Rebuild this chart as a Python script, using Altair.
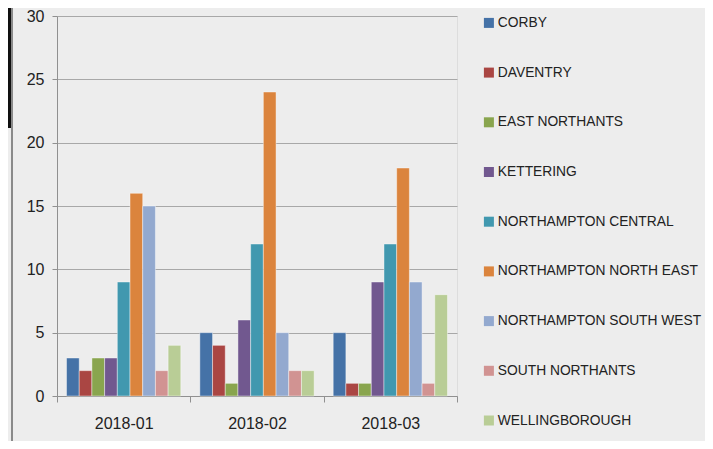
import altair as alt
import pandas as pd

months = ["2018-01", "2018-02", "2018-03"]
areas = ["CORBY", "DAVENTRY", "EAST NORTHANTS", "KETTERING", "NORTHAMPTON CENTRAL",
         "NORTHAMPTON NORTH EAST", "NORTHAMPTON SOUTH WEST", "SOUTH NORTHANTS", "WELLINGBOROUGH"]
colors = ["#4572A7", "#AA4643", "#89A54E", "#71588F", "#4198AF",
          "#DB843D", "#93A9CF", "#D19392", "#B9CD96"]
v_2018_01 = [3, 2, 3, 3, 9, 16, 15, 2, 4]
v_2018_02 = [5, 4, 1, 6, 12, 24, 5, 2, 2]
v_2018_03 = [5, 1, 1, 9, 12, 18, 9, 1, 8]

rows = []
for m, vals in zip(months, [v_2018_01, v_2018_02, v_2018_03]):
    for a, v in zip(areas, vals):
        rows.append({"month": m, "area": a, "count": v})
df = pd.DataFrame(rows)

FONT = "Liberation Sans, Arial, sans-serif"

bars = alt.Chart(df).mark_bar(stroke="#ffffff", strokeWidth=0.6, strokeOpacity=0.7).encode(
    x=alt.X("month:N", sort=months, title=None,
            scale=alt.Scale(paddingInner=0, paddingOuter=0),
            axis=alt.Axis(labelAngle=0, tickBand="extent", tickSize=6, tickColor="#909090",
                          domainColor="#909090", labelFontSize=16, labelPadding=13,
                          labelColor="#222222", grid=False)),
    xOffset=alt.XOffset("area:N", sort=areas,
                        scale=alt.Scale(paddingOuter=0.75, paddingInner=0)),
    y=alt.Y("count:Q", title=None,
            scale=alt.Scale(domain=[0, 30], nice=False),
            axis=alt.Axis(values=[0, 5, 10, 15, 20, 25, 30], tickSize=5, tickColor="#909090",
                          domainColor="#909090", gridColor="#a8a8a8", labelFontSize=16,
                          labelPadding=8, labelColor="#222222")),
    color=alt.Color("area:N", sort=areas, title=None,
                    scale=alt.Scale(domain=areas, range=colors),
                    legend=alt.Legend(orient="none", legendX=425, legendY=0,
                                      symbolType="square", symbolSize=100,
                                      symbolStrokeWidth=0, labelFontSize=13.8,
                                      labelColor="#222222", rowPadding=34.7,
                                      labelOffset=2, padding=0, labelLimit=300)),
)

frame_left = alt.Chart(df).mark_rule(color="#8a8a8a", strokeWidth=1.5).encode(
    x=alt.value(-45), y=alt.value(-8), y2=alt.value(431))
frame_bottom = alt.Chart(df).mark_rule(color="#8a8a8a", strokeWidth=1.5).encode(
    x=alt.value(-45), x2=alt.value(648), y=alt.value(431))
frame_black = alt.Chart(df).mark_rule(color="#111111", strokeWidth=2).encode(
    x=alt.value(-47.5), y=alt.value(-8), y2=alt.value(112))

chart = alt.layer(bars, frame_left, frame_bottom, frame_black).properties(
    width=400, height=380,
    autosize=alt.AutoSizeParams(type="none"),
    padding={"left": 49, "top": 8, "right": 248, "bottom": 45},
    background="#ededed",
).configure_view(fill="#ffffff", stroke=None).configure(font=FONT)

chart.save("out.html", embed_options={"renderer": "svg", "actions": False})
